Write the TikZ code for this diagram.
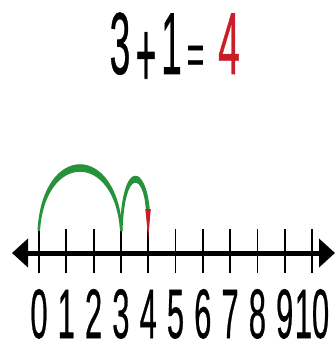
\documentclass[tikz,border=0pt]{standalone}
\usepackage{fontspec}
\usepackage{graphicx}
\setmainfont{Liberation Sans}
\newfontfamily\medsans[FakeBold=0.8]{Liberation Sans}
\usetikzlibrary{arrows.meta}
\definecolor{arcgreen}{RGB}{38,146,58}
\definecolor{ansred}{RGB}{200,30,40}
\tikzset{
  titlechar/.style={anchor=base, inner sep=0pt, font=\fontsize{88}{88}\medsans},
  digitlabel/.style={anchor=base, inner sep=0pt, font=\fontsize{70}{70}\medsans},
  tickline/.style={line width=1.8pt, black},
  axisline/.style={line width=5pt, black, {Triangle[length=16pt,width=28pt]}-{Triangle[length=16pt,width=28pt]}},
  jumpfill/.style={fill=arcgreen, draw=none},
}
\newcommand{\sq}[1]{\scalebox{0.42}[1]{#1}}
\begin{document}
\begin{tikzpicture}[x=1pt,y=-1pt]
\useasboundingbox[fill=white] (0,0) rectangle (335,344);
% title
\node[titlechar] (t3) at (120,74) {\sq{3}};
\node[titlechar] (tplus) at (146,74) {\raisebox{-13pt}{\scalebox{0.4}[1.08]{+}}};
\node[titlechar] (t1) at (171.5,74) {\sq{1}};
\node[titlechar] (teq) at (195.5,74) {\scalebox{0.34}[0.65]{=}};
\node[titlechar, text=ansred] (t4) at (229,74) {\scalebox{0.44}[1]{4}};
% axis
\coordinate (L) at (12,253);
\coordinate (R) at (335,253);
\draw[axisline] (L) -- (R);
% ticks and labels
\foreach \i in {0,...,10}{
  \coordinate (top\i) at ({39+27.3*\i},229);
  \coordinate (bot\i) at ({39+27.3*\i},273);
  \draw[tickline] (top\i) -- (bot\i);
  \node[digitlabel] (lab\i) at ({39+27.3*\i},338) {\scalebox{0.44}[1]{\i}};
}
% big jump 0 -> 3
\fill[jumpfill] (37.5,231) .. controls (42,142) and (118,142) .. (122.5,231)
  -- (120,231) .. controls (115,152) and (45,152) .. (40,231) -- cycle;
% small jump 3 -> 4
\fill[jumpfill] (120,231) .. controls (121.5,158) and (146.5,163) .. (150,212)
  -- (146,212) .. controls (144,172) and (124.5,168) .. (122.5,231) -- cycle;
% red arrowhead
\fill[ansred] (145.3,209) -- (150.8,209) -- (148.2,238) -- cycle;
\end{tikzpicture}
\end{document}
